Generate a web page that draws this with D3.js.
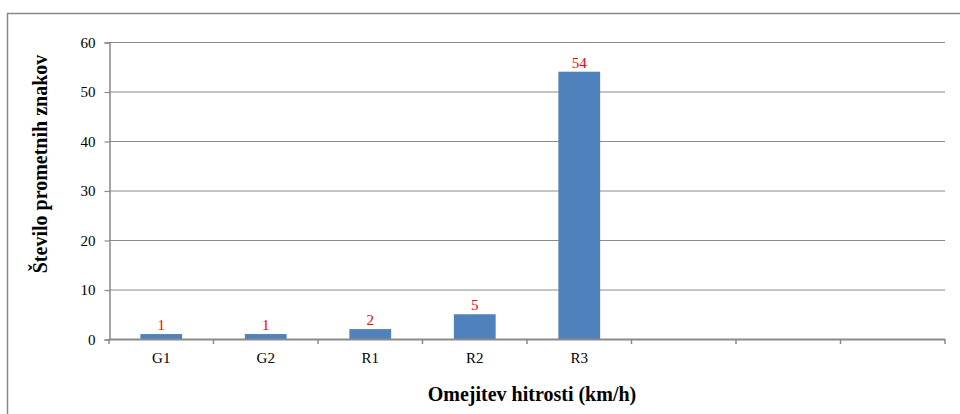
<!DOCTYPE html>
<html>
<head>
<meta charset="utf-8">
<script src="https://cdn.jsdelivr.net/npm/d3@7"></script>
<style>
  html, body { margin: 0; padding: 0; background: #fff; }
  svg { display: block; }
</style>
</head>
<body>
<svg id="chart" width="960" height="414"></svg>
<script>
// Categories along the x axis (the last three slots are empty)
const categories = ["G1", "G2", "R1", "R2", "R3", "c6", "c7", "c8"];
const categoryLabels = ["G1", "G2", "R1", "R2", "R3", "", "", ""];
// Number of traffic signs per speed-limit category
const values = [1, 1, 2, 5, 54, null, null, null];
const yTicks = [0, 10, 20, 30, 40, 50, 60];

const svg = d3.select("#chart");
const font = "'Liberation Serif', 'Times New Roman', serif";

// Outer frame
svg.append("rect")
  .attr("x", 7.5).attr("y", 13.5)
  .attr("width", 960).attr("height", 420)
  .attr("fill", "none").attr("stroke", "#888").attr("stroke-width", 1.5);

const plot = { left: 109, right: 945, top: 42, bottom: 339 };

const x = d3.scaleBand().domain(categories)
  .range([plot.left, plot.right]).paddingInner(0.6).paddingOuter(0.3);
const xEdges = d3.scaleLinear().domain([0, categories.length])
  .range([plot.left, plot.right]);
const y = d3.scaleLinear().domain([0, 60]).range([plot.bottom, plot.top]);

// Horizontal gridlines
svg.append("g").selectAll("line").data(yTicks.filter(d => d > 0)).join("line")
  .attr("x1", plot.left).attr("x2", plot.right)
  .attr("y1", d => y(d) + 0.5).attr("y2", d => y(d) + 0.5)
  .attr("stroke", "#8a8a8a").attr("stroke-width", 1.2);

// Y axis
const yAxis = svg.append("g")
  .attr("transform", `translate(${plot.left + 0.5},0.5)`)
  .call(d3.axisLeft(y).tickValues(yTicks).tickSize(5).tickPadding(9));
yAxis.select(".domain").attr("stroke", "#8a8a8a").attr("stroke-width", 1.5);
yAxis.selectAll(".tick line").attr("stroke", "#8a8a8a").attr("stroke-width", 1.2);
yAxis.selectAll("text").attr("font-family", font).attr("font-size", 15).attr("fill", "#000");

// Bars
const barData = categories.map((c, i) => ({ c, v: values[i] })).filter(d => d.v != null);
svg.append("g").selectAll("rect").data(barData)
  .join("rect")
  .attr("x", d => x(d.c)).attr("width", x.bandwidth())
  .attr("y", d => y(d.v)).attr("height", d => y(0) - y(d.v))
  .attr("fill", "#4f81bd");

// Value labels
svg.append("g").selectAll("text").data(barData)
  .join("text")
  .attr("x", d => x(d.c) + x.bandwidth() / 2)
  .attr("y", d => y(d.v) - 4)
  .attr("text-anchor", "middle")
  .attr("font-family", font).attr("font-size", 15).attr("fill", "#ff0000")
  .text(d => d.v);

// X axis line with ticks at category boundaries
const xAxis = svg.append("g");
xAxis.append("line")
  .attr("x1", plot.left).attr("x2", plot.right)
  .attr("y1", plot.bottom + 0.5).attr("y2", plot.bottom + 0.5)
  .attr("stroke", "#8a8a8a").attr("stroke-width", 2);
xAxis.selectAll("line.tick").data(d3.range(categories.length + 1)).join("line")
  .attr("class", "tick")
  .attr("x1", d => xEdges(d)).attr("x2", d => xEdges(d))
  .attr("y1", plot.bottom).attr("y2", plot.bottom + 5)
  .attr("stroke", "#8a8a8a").attr("stroke-width", 1.5);
xAxis.selectAll("text").data(categories).join("text")
  .attr("x", d => x(d) + x.bandwidth() / 2)
  .attr("y", plot.bottom + 24)
  .attr("text-anchor", "middle")
  .attr("font-family", font).attr("font-size", 15).attr("fill", "#000")
  .text((d, i) => categoryLabels[i]);

// Axis titles
svg.append("text")
  .attr("x", 532)
  .attr("y", 401)
  .attr("text-anchor", "middle")
  .attr("font-family", font).attr("font-size", 20).attr("font-weight", "bold")
  .text("Omejitev hitrosti (km/h)");

svg.append("text")
  .attr("transform", `translate(47,164) rotate(-90)`)
  .attr("text-anchor", "middle")
  .attr("font-family", font).attr("font-size", 20).attr("font-weight", "bold")
  .text("Število prometnih znakov");
</script>
</body>
</html>
